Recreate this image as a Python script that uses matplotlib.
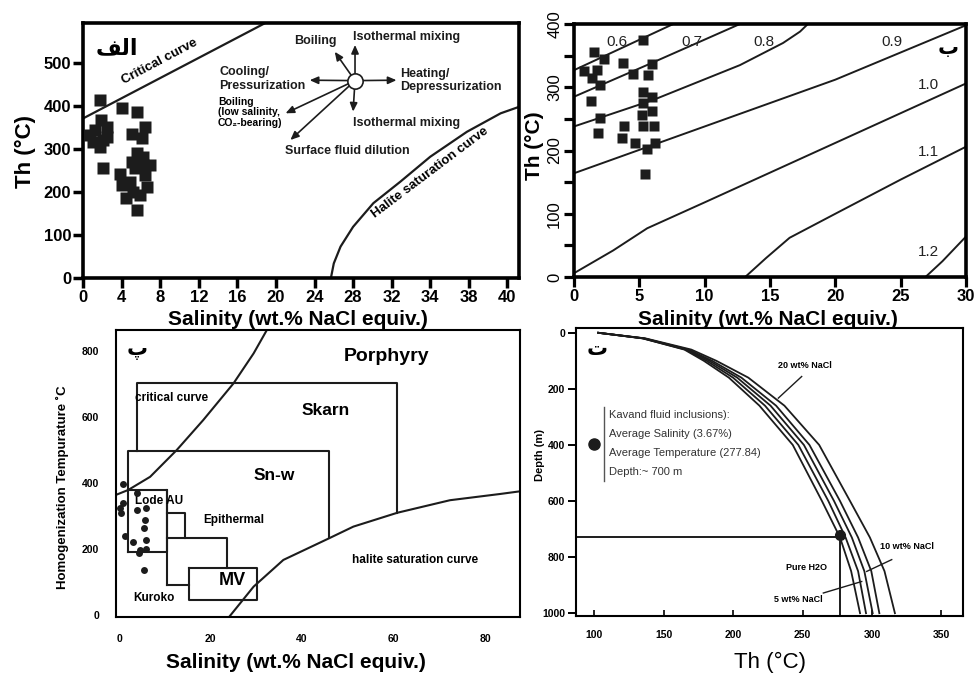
import numpy as np
import matplotlib
matplotlib.use("Agg")
import matplotlib.pyplot as plt

plt.rcParams['font.family'] = ['Liberation Sans', 'DejaVu Sans']

W, H = 979, 675

# ---------- data ----------
# panel A (الف): salinity / Th of the inclusions
a_sal = [1.8, 4.0, 5.6, 6.4, 5.05, 6.1, 1.9, 1.25, 2.5, 1.07, 2.1, 1.76, 2.5, 0.73,
         2.1, 5.6, 6.25, 3.8, 4.0, 4.9, 5.4, 6.4, 6.6, 5.2, 5.9, 6.25, 5.05, 4.5, 6.95, 5.6]
a_th = [414, 395, 387, 352, 334, 325, 367, 344, 352, 317, 321, 305, 329, 333,
        255, 290, 282, 243, 216, 224, 255, 240, 212, 200, 193, 263, 270, 185, 263, 158]
a_xticks = ['0', '4', '8', '12', '16', '20', '24', '28', '32', '34', '38', '40']
a_yticks = [0, 100, 200, 300, 400, 500]
a_crit_x = [0, 18.9]
a_crit_y = [371, 593]
a_hal_x = [25.7, 26.0, 26.7, 28.0, 30.1, 32.9, 36.0, 39.8, 43.3, 45.2]
a_hal_y = [0, 34, 73, 119, 174, 224, 282, 340, 383, 398]

# panel B (ب): same inclusions on isochores
b_sal = [5.25, 1.53, 2.3, 3.77, 6.0, 0.77, 1.74, 1.4, 4.49, 5.7, 2.0, 1.28, 5.25, 5.94,
         5.25, 5.94, 5.2, 6.1, 5.25, 2.0, 1.86, 3.8, 3.7, 4.67, 5.6, 6.2, 5.43]
b_th = [375, 356, 344, 339, 337, 325, 327, 314, 321, 319, 303, 279, 293, 284,
        275, 263, 256, 238, 238, 251, 228, 238, 219, 212, 203, 212, 163]
iso_labels = ['0.6', '0.7', '0.8', '0.9', '1.0', '1.1', '1.2']
iso_x = [[0, 7.6],
         [0, 5.8, 12.7],
         [0, 6.07, 12.7, 16.0, 17.3, 17.9],
         [0, 10, 20, 30],
         [0, 3, 5.6, 10, 20, 30],
         [13.1, 14.7, 16.5, 20, 25, 30],
         [26.9, 28.2, 30]]
iso_y = [[327, 400],
         [285, 337, 400],
         [238, 280, 335, 370, 388, 400],
         [164, 238, 312, 398],
         [6, 42, 77, 118, 212, 306],
         [0, 30, 62, 100, 154, 206],
         [0, 25, 64]]

# panel C (پ): deposit type fields
c_sal = [0.94, 0.94, 0.4, 1.3, 3.9, 4.0, 6.0, 5.7, 5.5, 6.0, 3.1, 4.6, 6.0, 4.4, 5.5, 0.2]
c_th = [396, 340, 308, 239, 369, 318, 323, 288, 263, 227, 222, 197, 199, 189, 136, 323]
c_crit_x = [-0.7, 2.0, 6.8, 12.6, 18.4, 25, 29.4, 32.3]
c_crit_y = [364, 379, 419, 500, 591, 702, 793, 864]
c_hal_x = [24.1, 29.4, 35.9, 45.8, 51.2, 60.8, 72.3, 83.3, 87.6]
c_hal_y = [-5, 86, 167, 232, 268, 310, 348, 367, 375]
box_lines = [
    ([3.9, 3.9, 60.8, 60.8], [497, 702, 702, 310]),        # Skarn
    ([1.9, 1.9, 45.9, 45.9], [192, 497, 497, 232]),        # Sn-W
    ([1.9, 10.4, 10.4, 1.9], [379, 379, 192, 192]),        # Lode Au
    ([10.4, 10.4], [91, 379]),
    ([10.4, 14.4, 14.4], [308, 308, 232]),                 # Epithermal
    ([10.4, 23.5, 23.5], [232, 232, 144]),
    ([10.4, 15.2], [91, 91]),
    ([15.2, 30.2, 30.2, 15.2, 15.2], [144, 144, 47, 47, 144]),  # MV
]

# panel D (ت): boiling curves, depth vs Th
depth = [0, 20, 60, 100, 160, 260, 400, 600, 730, 850, 1000]
boil_pure = [103, 135, 165, 179, 197, 219, 243, 264, 277, 285, 291.4]
boil_5 = [103, 135, 166, 181, 200, 223, 247, 268.6, 281, 290, 295.7]
boil_10 = [103, 136, 167, 183, 203, 227, 251, 272.7, 285.5, 294.5, 300.5]
boil_15 = [103, 136, 168, 185, 206, 231, 255, 277, 290, 299.5, 305.3]
boil_20 = [103, 137, 170, 188, 211, 237, 262, 284.2, 298.5, 309, 316.5]
avg_temp, avg_depth = 277, 728
kavand_lines = ['Kavand fluid inclusions):', 'Average Salinity (3.67%)',
                'Average Temperature (277.84)', 'Depth:~ 700 m']


def rect(x0, y0, x1, y1):
    return [x0 / W, 1 - y1 / H, (x1 - x0) / W, (y1 - y0) / H]


fig = plt.figure(figsize=(W / 100, H / 100), dpi=100)

# ---------- panel A ----------
ax = fig.add_axes(rect(83, 23, 519, 278))
ax.plot(a_sal, a_th, 's', color='#1c1c1c', ms=8, mec='none')
ax.plot(a_crit_x, a_crit_y, color='#1c1c1c', lw=1.6)
ax.plot(a_hal_x, a_hal_y, color='#1c1c1c', lw=1.6)
ax.set_xlim(0, 45.2)
ax.set_ylim(0, 593)
ax.set_xticks(np.arange(0, 45, 4))
ax.set_xticklabels(a_xticks)
ax.set_yticks(a_yticks)
ax.tick_params(length=7, width=2.5, labelsize=12, pad=1.5)
for lab in ax.get_xticklabels() + ax.get_yticklabels():
    lab.set_fontweight('bold')
for s in ax.spines.values():
    s.set_linewidth(2.6)
ax.text(8.0, 503, 'Critical curve', rotation=28, ha='center', va='center', fontsize=9.5, fontweight='bold')
ax.text(36.0, 244, 'Halite saturation curve', rotation=37, ha='center', va='center', fontsize=9.5, fontweight='bold')
ax.text(3.5, 534, '\uFED2\uFEDF\uFE8D', fontsize=16, fontweight='bold', ha='center', va='center')

# arrows diagram
cx, cy = 28.2, 459
ends = [(28.2, 542), (26.1, 526), (23.5, 460), (32.5, 460), (28.0, 387), (21.0, 383), (21.5, 321)]
for ex, ey in ends:
    ax.annotate('', xy=(ex, ey), xytext=(cx, cy),
                arrowprops=dict(arrowstyle='-|>,head_length=0.5,head_width=0.22', lw=1.2, color='#1c1c1c',
                                shrinkA=5, shrinkB=0))
ax.plot([cx], [cy], 'o', ms=11, mfc='white', mec='#1c1c1c', mew=1.2, zorder=5)
kw = dict(fontsize=9, fontweight='bold', color='#1c1c1c')
ax.text(24.1, 552, 'Boiling', ha='center', va='center', **kw)
ax.text(28.0, 560, 'Isothermal mixing', ha='left', va='center', **kw)
ax.text(14.1, 463, 'Cooling/\nPressurization', ha='left', va='center', linespacing=1.15, **kw)
ax.text(32.9, 460, 'Heating/\nDepressurization', ha='left', va='center', linespacing=1.15, **kw)
ax.text(14.0, 385, 'Boiling\n(low salinity,\nCO\u2082-bearing)', ha='left', va='center',
        fontsize=7.5, fontweight='bold', linespacing=1.1)
ax.text(28.0, 361, 'Isothermal mixing', ha='left', va='center', **kw)
ax.text(20.9, 296, 'Surface fluid dilution', ha='left', va='center', **kw)

fig.text(25 / W, 1 - 152 / H, 'Th (\u00b0C)', rotation=90, ha='center', va='center', fontsize=16, fontweight='bold')
fig.text(298 / W, 1 - 319 / H, 'Salinity (wt.% NaCl equiv.)', ha='center', va='center', fontsize=15, fontweight='bold')

# ---------- panel B ----------
ax = fig.add_axes(rect(574, 24, 966, 277))
for xs, ys in zip(iso_x, iso_y):
    ax.plot(xs, ys, color='#1c1c1c', lw=1.4)
ax.plot(b_sal, b_th, 's', color='#1c1c1c', ms=7.5, mec='none', zorder=4)
lab_pos = [(3.3, 372), (9.0, 372), (14.5, 372), (24.3, 372), (27.1, 303), (27.1, 198), (27.1, 40)]
for (lx, ly), t in zip(lab_pos, iso_labels):
    ax.text(lx, ly, t, ha='center', va='center', fontsize=11, color='#222222')
ax.text(28.6, 362, '\u0628', ha='center', va='center', fontsize=15, fontweight='bold')
ax.set_xlim(0, 30)
ax.set_ylim(0, 400)
ax.set_xticks(np.arange(0, 31, 5))
ax.set_yticks(np.arange(0, 401, 50))
ax.set_yticklabels([str(v) if v % 100 == 0 else '' for v in range(0, 401, 50)], rotation=90, va='center')
ax.tick_params(length=7, width=2.3, labelsize=12, pad=1.5)
for lab in ax.get_xticklabels():
    lab.set_fontweight('bold')
for s in ax.spines.values():
    s.set_linewidth(2.6)
fig.text(535 / W, 1 - 146 / H, 'Th (\u00b0C)', rotation=90, ha='center', va='center', fontsize=15, fontweight='bold')
fig.text(768 / W, 1 - 319 / H, 'Salinity (wt.% NaCl equiv.)', ha='center', va='center', fontsize=15, fontweight='bold')

# ---------- panel C ----------
ax = fig.add_axes(rect(116, 330, 520, 617))
for xs, ys in box_lines:
    ax.plot(xs, ys, color='#1c1c1c', lw=1.5)
ax.plot(c_crit_x, c_crit_y, color='#1c1c1c', lw=1.5)
ax.plot(c_hal_x, c_hal_y, color='#1c1c1c', lw=1.5)
ax.plot(c_sal, c_th, 'o', color='#1c1c1c', ms=5, mec='none', zorder=4)
ax.set_xlim(-0.66, 87.6)
ax.set_ylim(-6, 864)
ax.set_xticks([0, 20, 40, 60, 80])
ax.set_yticks([0, 200, 400, 600, 800])
ax.tick_params(length=0, labelsize=7.5, pad=12)
for lab in ax.get_xticklabels() + ax.get_yticklabels():
    lab.set_fontweight('bold')
for s in ax.spines.values():
    s.set_linewidth(1.5)
ax.text(58.5, 785, 'Porphyry', ha='center', va='center', fontsize=14, fontweight='bold')
ax.text(45.2, 619, 'Skarn', ha='center', va='center', fontsize=12.5, fontweight='bold')
ax.text(33.9, 424, 'Sn-w', ha='center', va='center', fontsize=12.5, fontweight='bold')
ax.text(8.8, 345, 'Lode AU', ha='center', va='center', fontsize=8.5, fontweight='bold')
ax.text(25.0, 288, 'Epithermal', ha='center', va='center', fontsize=8.5, fontweight='bold')
ax.text(24.8, 106, 'MV', ha='center', va='center', fontsize=13, fontweight='bold')
ax.text(7.7, 51, 'Kuroko', ha='center', va='center', fontsize=8.5, fontweight='bold')
ax.text(11.5, 657, 'critical curve', ha='center', va='center', fontsize=8.5, fontweight='bold')
ax.text(64.7, 167, 'halite saturation curve', ha='center', va='center', fontsize=8.5, fontweight='bold')
ax.text(3.9, 803, '\u067E', ha='center', va='center', fontsize=15, fontweight='bold')
fig.text(62 / W, 1 - 487 / H, 'Homogenization Tempurature \u02daC', rotation=90, ha='center', va='center',
         fontsize=9.5, fontweight='bold')
fig.text(296 / W, 1 - 663 / H, 'Salinity (wt.% NaCl equiv.)', ha='center', va='center', fontsize=15, fontweight='bold')

# ---------- panel D ----------
ax = fig.add_axes(rect(576, 328, 963, 616))
for temps in [boil_pure, boil_5, boil_10, boil_15, boil_20]:
    ax.plot(temps, depth, color='#1c1c1c', lw=1.3)
ax.plot([87, avg_temp], [avg_depth, avg_depth], color='#1c1c1c', lw=1.4)
ax.plot([avg_temp, avg_temp], [avg_depth, 1010], color='#1c1c1c', lw=1.4)
ax.plot([avg_temp], [avg_depth - 8], 'o', color='#1c1c1c', ms=7)
ax.plot([100], [397], 'o', color='#1c1c1c', ms=8)
ax.plot([107, 107], [263, 530], color='#555555', lw=1)
for i, t in enumerate(kavand_lines):
    ax.text(111, 292 + i * 68.7, t, ha='left', va='center', fontsize=8, color='#333333')
ax.text(251.8, 116, '20 wt% NaCl', ha='center', va='center', fontsize=6.5, fontweight='bold')
ax.plot([249.4, 232.6], [156, 233], color='#1c1c1c', lw=1)
ax.text(325, 762, '10 wt% NaCl', ha='center', va='center', fontsize=6.5, fontweight='bold')
ax.plot([314.2, 296.2], [809, 851], color='#1c1c1c', lw=1)
ax.text(253, 837, 'Pure H2O', ha='center', va='center', fontsize=6.5, fontweight='bold')
ax.text(247, 952, '5 wt% NaCl', ha='center', va='center', fontsize=6.5, fontweight='bold')
ax.plot([265, 292.6], [928, 887], color='#1c1c1c', lw=1)
ax.text(102, 61, '\u062A', ha='center', va='center', fontsize=15, fontweight='bold')
ax.set_xlim(87, 365.5)
ax.set_ylim(1010, -17)
ax.set_xticks([100, 150, 200, 250, 300, 350])
ax.set_yticks([0, 200, 400, 600, 800, 1000])
ax.tick_params(axis='x', direction='in', length=4, width=1.2, labelsize=7.5, pad=10)
ax.tick_params(axis='y', direction='out', length=6, width=1.4, labelsize=7.5, pad=2)
for lab in ax.get_xticklabels() + ax.get_yticklabels():
    lab.set_fontweight('bold')
for s in ax.spines.values():
    s.set_linewidth(1.5)
fig.text(540 / W, 1 - 455 / H, 'Depth (m)', rotation=90, ha='center', va='center', fontsize=8, fontweight='bold')
fig.text(770 / W, 1 - 662 / H, 'Th (\u00b0C)', ha='center', va='center', fontsize=16)

fig.savefig('out.png', dpi=100)
